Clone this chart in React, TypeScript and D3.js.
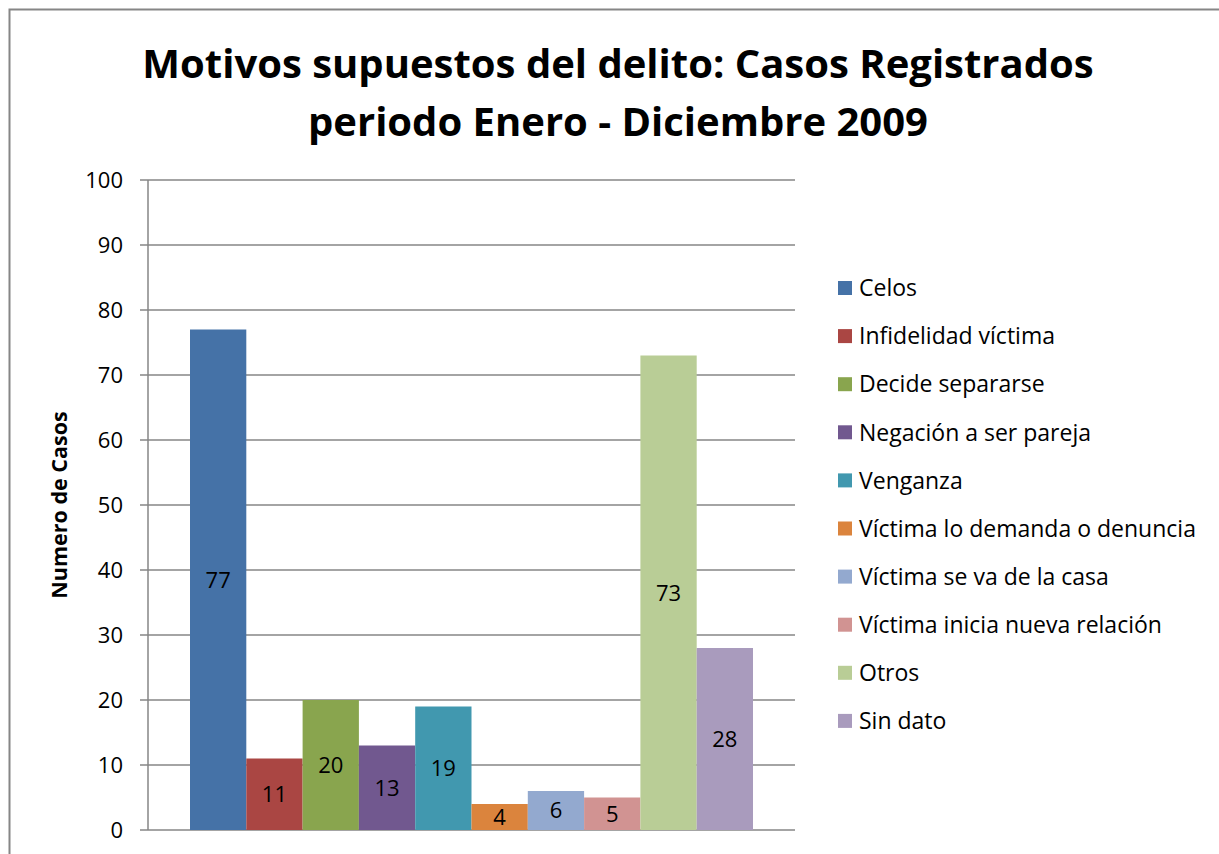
import React, { useEffect, useRef } from "react";
import * as d3 from "d3";

const categories = [
  "Celos",
  "Infidelidad víctima",
  "Decide separarse",
  "Negación a ser pareja",
  "Venganza",
  "Víctima lo demanda o denuncia",
  "Víctima se va de la casa",
  "Víctima inicia nueva relación",
  "Otros",
  "Sin dato",
];
const values = [77, 11, 20, 13, 19, 4, 6, 5, 73, 28];
const colors = [
  "#4572A7", "#AA4643", "#89A54E", "#71588F", "#4198AF",
  "#DB843D", "#93A9CF", "#D19392", "#B9CD96", "#A99BBD",
];
const yTicks = [0, 10, 20, 30, 40, 50, 60, 70, 80, 90, 100];

const FONT = "'Open Sans', sans-serif";

const App = () => {
  const svgRef = useRef<SVGSVGElement>(null);

  useEffect(() => {
    const svg = d3.select(svgRef.current);
    svg.selectAll("*").remove();

    // outer chart border (runs off the page at right/bottom)
    svg.append("rect")
      .attr("x", 9.5).attr("y", 9.5)
      .attr("width", 1240).attr("height", 900)
      .attr("fill", "#fff").attr("stroke", "#868686").attr("stroke-width", 2);

    const plot = { left: 148, right: 795, top: 180, bottom: 830 };

    const y = d3.scaleLinear().domain([0, 100]).range([plot.bottom, plot.top]);
    const x = d3.scaleBand<string>()
      .domain(categories)
      .range([190, 753])
      .padding(0);

    // gridlines + ticks
    svg.append("g")
      .selectAll("line")
      .data(yTicks)
      .enter()
      .append("line")
      .attr("x1", plot.left - 8)
      .attr("x2", plot.right)
      .attr("y1", (d) => y(d))
      .attr("y2", (d) => y(d))
      .attr("stroke", "#868686")
      .attr("stroke-width", 1.5);

    svg.append("line")
      .attr("x1", plot.left).attr("x2", plot.left)
      .attr("y1", plot.top).attr("y2", plot.bottom)
      .attr("stroke", "#868686").attr("stroke-width", 1.5);

    svg.append("g")
      .selectAll("text")
      .data(yTicks)
      .enter()
      .append("text")
      .attr("x", plot.left - 25)
      .attr("y", (d) => y(d))
      .attr("dy", "0.36em")
      .attr("text-anchor", "end")
      .attr("font-family", FONT)
      .attr("font-size", 22)
      .text((d) => d);

    svg.append("g")
      .selectAll("rect")
      .data(values)
      .enter()
      .append("rect")
      .attr("x", (d, i) => x(categories[i])!)
      .attr("y", (d) => y(d))
      .attr("width", x.bandwidth())
      .attr("height", (d) => plot.bottom - y(d))
      .attr("fill", (d, i) => colors[i]);

    // value labels in the middle of each bar
    svg.append("g")
      .selectAll("text")
      .data(values)
      .enter()
      .append("text")
      .attr("x", (d, i) => x(categories[i])! + x.bandwidth() / 2)
      .attr("y", (d) => (y(d) + plot.bottom) / 2)
      .attr("dy", "0.36em")
      .attr("text-anchor", "middle")
      .attr("font-family", FONT)
      .attr("font-size", 22)
      .text((d) => d);

    // y axis title
    svg.append("text")
      .attr("transform", "translate(67,505) rotate(-90)")
      .attr("text-anchor", "middle")
      .attr("font-family", FONT)
      .attr("font-weight", "bold")
      .attr("font-size", 21.5)
      .text("Numero de Casos");

    // title
    const title = svg.append("text")
      .attr("text-anchor", "middle")
      .attr("font-family", FONT)
      .attr("font-weight", "bold")
      .attr("font-size", 40);
    title.append("tspan").attr("x", 618).attr("y", 78)
      .text("Motivos supuestos del delito: Casos Registrados");
    title.append("tspan").attr("x", 618).attr("y", 136)
      .text("periodo Enero - Diciembre 2009");

    // legend
    const legend = svg.append("g")
      .selectAll("g")
      .data(categories)
      .enter()
      .append("g")
      .attr("transform", (d, i) => `translate(838,${288 + i * 48.1})`);
    legend.append("rect")
      .attr("x", 0).attr("y", -7)
      .attr("width", 14).attr("height", 14)
      .attr("fill", (d, i) => colors[i]);
    legend.append("text")
      .attr("x", 21)
      .attr("dy", "0.36em")
      .attr("font-family", FONT)
      .attr("font-size", 23)
      .text((d) => d);
  }, []);

  return (
    <svg
      ref={svgRef}
      width={1219}
      height={854}
      style={{ position: "absolute", left: 0, top: 0, display: "block" }}
    />
  );
};

export default App;
